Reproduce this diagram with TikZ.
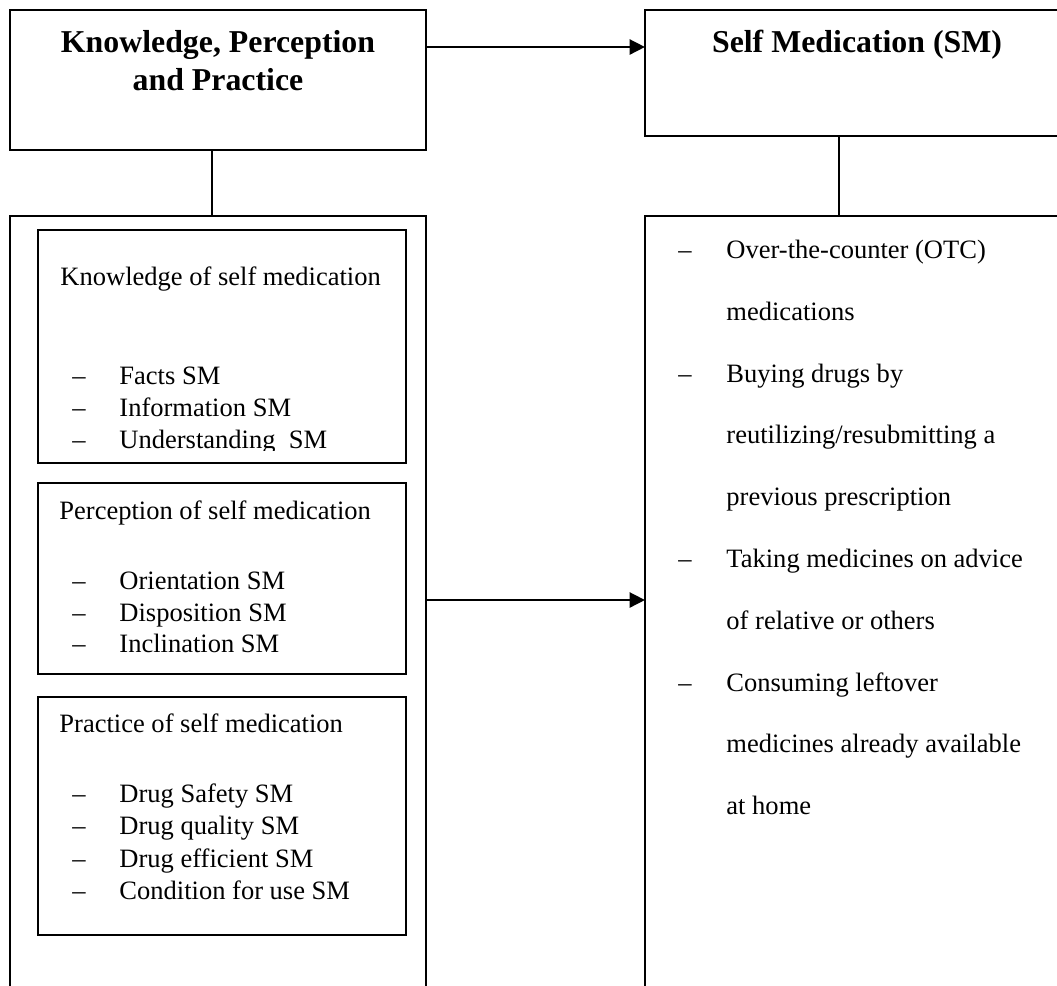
\documentclass[tikz,border=0pt]{standalone}
\usepackage{fontspec}
\setmainfont{Liberation Serif}
\usetikzlibrary{fit,arrows.meta}

\begin{document}
\begin{tikzpicture}[x=0.4525pt, y=-0.4525pt]
\useasboundingbox (0,0) rectangle (1057,985);
\clip (0,0) rectangle (1057,985);

\coordinate (KPP_1) at (10, 10);
\coordinate (KPP_2) at (426, 150);
\coordinate (SM_1) at (645, 10);
\coordinate (SM_2) at (1069, 136);
\coordinate (KPPL_1) at (10, 216);
\coordinate (KPPL_2) at (426, 1100);
\coordinate (SML_1) at (645, 216);
\coordinate (SML_2) at (1069, 1100);
\coordinate (K_1) at (38, 230);
\coordinate (K_2) at (406, 463);
\coordinate (P_1) at (38, 483);
\coordinate (P_2) at (406, 674);
\coordinate (Q_1) at (38, 697);
\coordinate (Q_2) at (406, 935);


\tikzset{BoxStyle/.style = {draw, line width=0.9pt, inner sep=0pt, outer sep=0pt} }

\node[BoxStyle, fit=(KPP_1)(KPP_2)] (KPP) {};
\node[BoxStyle, fit=(SM_1)(SM_2)] (SM) {};
\node[BoxStyle, fit=(KPPL_1)(KPPL_2)] (KPPL) {};
\node[BoxStyle, fit=(SML_1)(SML_2)] (SML) {};
\node[BoxStyle, fit=(K_1)(K_2)] (K) {};
\node[BoxStyle, fit=(P_1)(P_2)] (P) {};
\node[BoxStyle, fit=(Q_1)(Q_2)] (Q) {};


\tikzset{TitleStyle/.style = {anchor=base, inner sep=0pt,
 font=\bfseries\fontsize{14.4}{17}\selectfont} }

\node[TitleStyle] (KPP_T1) at (218, 52) {Knowledge, Perception};
\node[TitleStyle] (KPP_T2) at (218, 90) {and Practice};
\node[TitleStyle] (SM_T) at (857, 52) {Self Medication (SM)};


\tikzset{EdgeStyle/.style = {line width=0.7pt} }
\tikzset{ArrowStyle/.style = {line width=1.2pt, -{Triangle[length=7pt, width=6.8pt]}} }

\draw[ArrowStyle] (KPP.east |- 0,47) -- (SM.west |- 0,47);
\draw[EdgeStyle] (KPP.south -| 212,0) -- (KPPL.north -| 212,0);
\draw[EdgeStyle] (SM.south -| 839,0) -- (SML.north -| 839,0);
\draw[ArrowStyle] (KPPL.east |- 0,600) -- (SML.west |- 0,600);


\tikzset{TextStyle/.style = {anchor=base west, inner sep=0pt,
 font=\fontsize{12}{14}\selectfont} }

\node[TextStyle] (K_H) at (60, 285) {Knowledge of self medication};
\begin{scope}
\clip (38, 230) rectangle (406, 450);
\node[TextStyle] (K_D1) at (72, 384) {--};
\node[TextStyle] (K_I1) at (119, 384) {Facts SM};
\node[TextStyle] (K_D2) at (72, 416) {--};
\node[TextStyle] (K_I2) at (119, 416) {Information SM};
\node[TextStyle] (K_D3) at (72, 448) {--};
\node[TextStyle] (K_I3) at (119, 448) {Understanding\ \ SM};
\end{scope}

\node[TextStyle] (P_H) at (59, 519) {Perception of self medication};
\node[TextStyle] (P_D1) at (72, 589) {--};
\node[TextStyle] (P_I1) at (119, 589) {Orientation SM};
\node[TextStyle] (P_D2) at (72, 621) {--};
\node[TextStyle] (P_I2) at (119, 621) {Disposition SM};
\node[TextStyle] (P_D3) at (72, 652) {--};
\node[TextStyle] (P_I3) at (119, 652) {Inclination SM};

\node[TextStyle] (Q_H) at (59, 732) {Practice of self medication};
\node[TextStyle] (Q_D1) at (72, 802) {--};
\node[TextStyle] (Q_I1) at (119, 802) {Drug Safety SM};
\node[TextStyle] (Q_D2) at (72, 834) {--};
\node[TextStyle] (Q_I2) at (119, 834) {Drug quality SM};
\node[TextStyle] (Q_D3) at (72, 867) {--};
\node[TextStyle] (Q_I3) at (119, 867) {Drug efficient SM};
\node[TextStyle] (Q_D4) at (72, 899) {--};
\node[TextStyle] (Q_I4) at (119, 899) {Condition for use SM};

\node[TextStyle] (S_D1) at (678, 258) {--};
\node[TextStyle] (S_I1) at (726, 258) {Over-the-counter (OTC)};
\node[TextStyle] (S_I1b) at (726, 320) {medications};
\node[TextStyle] (S_D2) at (678, 382) {--};
\node[TextStyle] (S_I2) at (726, 382) {Buying drugs by};
\node[TextStyle] (S_I2b) at (726, 443) {reutilizing/resubmitting a};
\node[TextStyle] (S_I2c) at (726, 505) {previous prescription};
\node[TextStyle] (S_D3) at (678, 567) {--};
\node[TextStyle] (S_I3) at (726, 567) {Taking medicines on advice};
\node[TextStyle] (S_I3b) at (726, 629) {of relative or others};
\node[TextStyle] (S_D4) at (678, 691) {--};
\node[TextStyle] (S_I4) at (726, 691) {Consuming leftover};
\node[TextStyle] (S_I4b) at (726, 752) {medicines already available};
\node[TextStyle] (S_I4c) at (726, 814) {at home};

\end{tikzpicture}
\end{document}
